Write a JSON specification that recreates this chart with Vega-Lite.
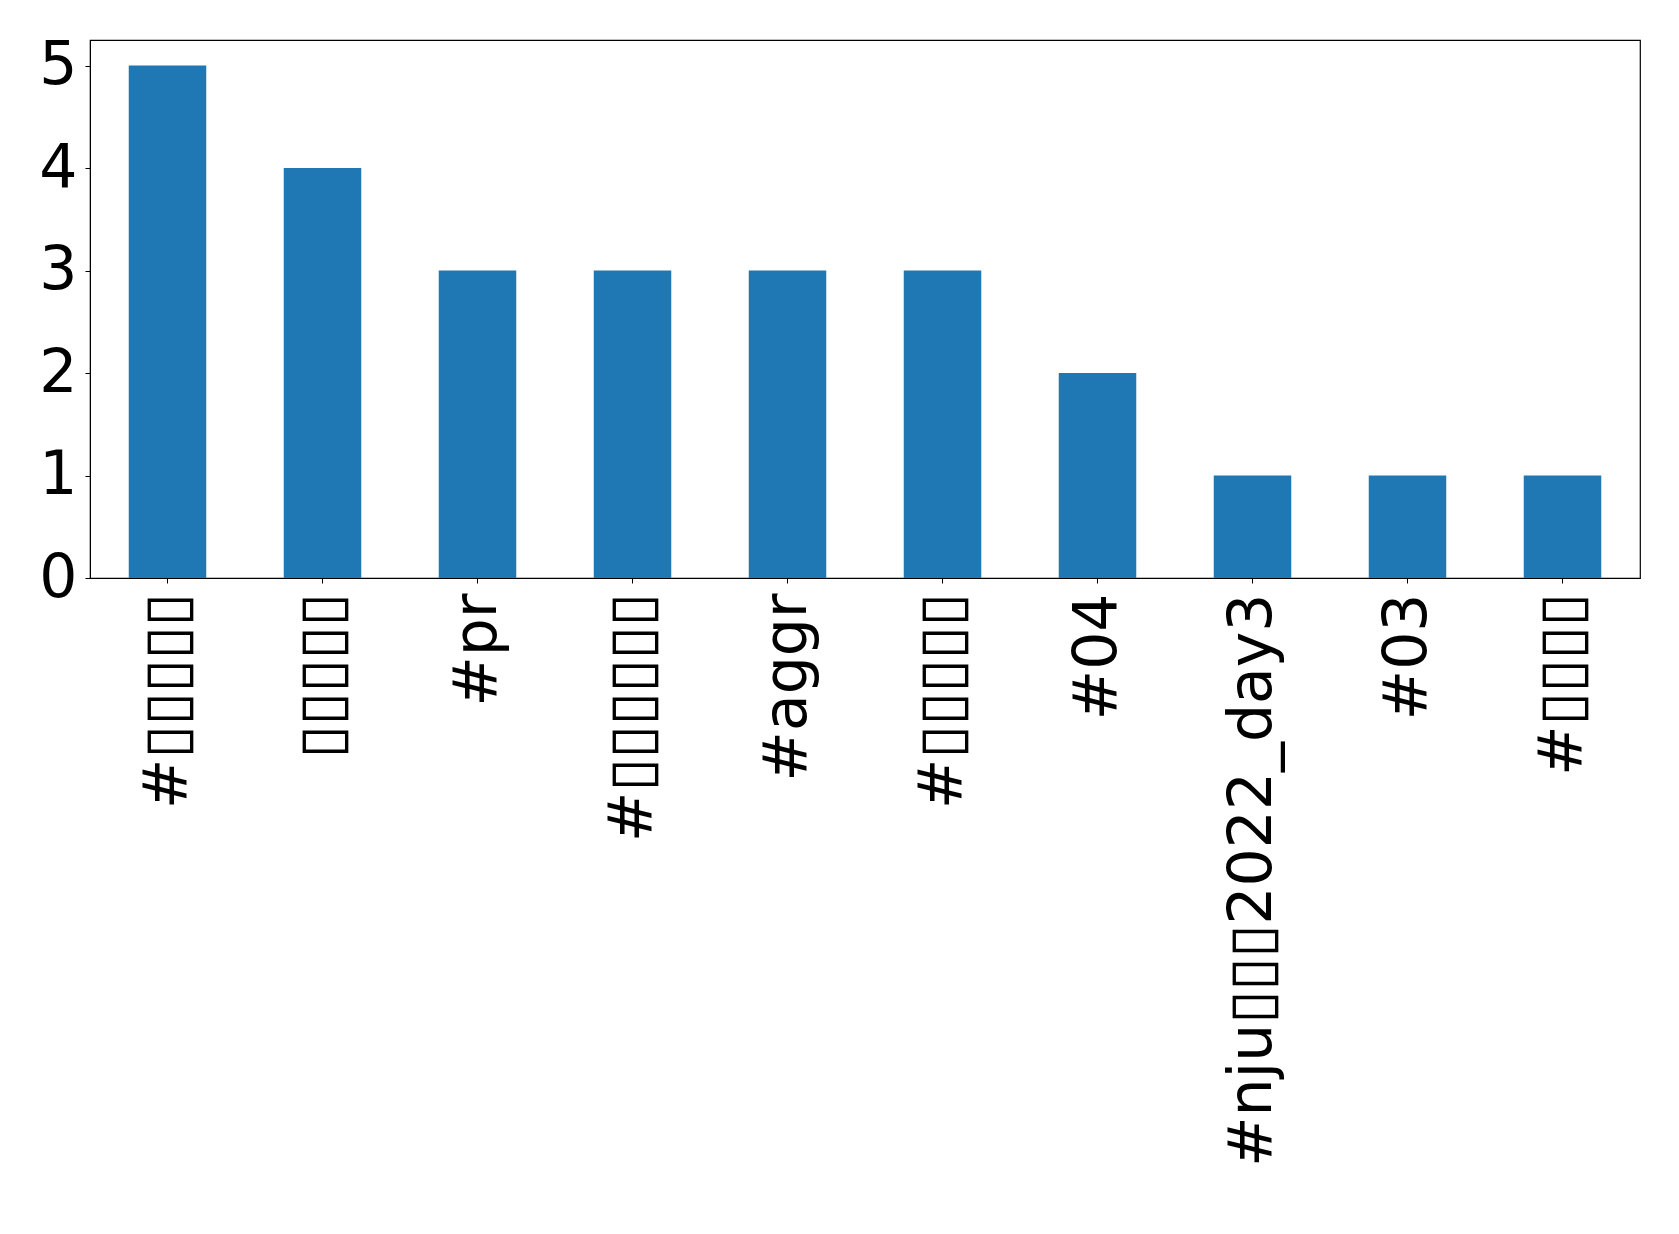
{
  "$schema": "https://vega.github.io/schema/vega-lite/v6.json",
  "width": 1550,
  "height": 538,
  "padding": {"left": 90, "top": 40, "right": 39, "bottom": 656},
  "autosize": {"type": "none"},
  "background": "white",
  "config": {
    "font": "DejaVu Sans",
    "view": {"stroke": "black", "strokeWidth": 1.2}
  },
  "data": {
    "values": [
      {"tag": "#▯▯▯▯▯", "count": 5},
      {"tag": "▯▯▯▯▯", "count": 4},
      {"tag": "#pr", "count": 3},
      {"tag": "#▯▯▯▯▯▯", "count": 3},
      {"tag": "#aggr", "count": 3},
      {"tag": "#▯▯▯▯▯ ", "count": 3},
      {"tag": "#04", "count": 2},
      {"tag": "#nju▯▯▯2022_day3", "count": 1},
      {"tag": "#03", "count": 1},
      {"tag": "#▯▯▯▯", "count": 1}
    ]
  },
  "mark": {"type": "bar", "color": "#1f77b4"},
  "encoding": {
    "x": {
      "field": "tag",
      "type": "nominal",
      "sort": null,
      "scale": {"paddingInner": 0.5, "paddingOuter": 0.25},
      "axis": {
        "title": null,
        "labelAngle": -90,
        "labelAlign": "right",
        "labelBaseline": "middle",
        "labelFontSize": 60,
        "labelColor": "black",
        "labelPadding": 10,
        "tickColor": "black",
        "tickSize": 5,
        "domainColor": "black",
        "labelLimit": 0
      }
    },
    "y": {
      "field": "count",
      "type": "quantitative",
      "scale": {"domain": [0, 5.25], "nice": false},
      "axis": {
        "title": null,
        "values": [0, 1, 2, 3, 4, 5],
        "grid": false,
        "labelFontSize": 60,
        "labelColor": "black",
        "labelPadding": 8,
        "tickColor": "black",
        "tickSize": 5,
        "domainColor": "black"
      }
    }
  }
}
